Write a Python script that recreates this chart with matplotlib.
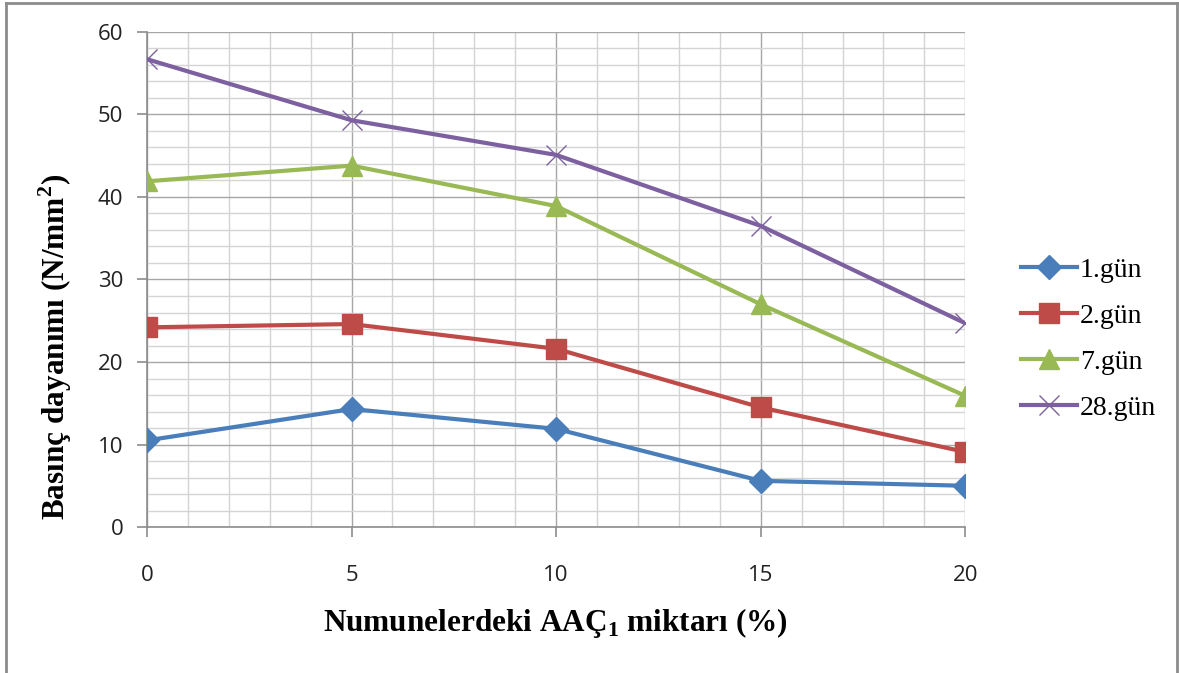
import matplotlib
matplotlib.use("Agg")
import matplotlib.pyplot as plt
from matplotlib.lines import Line2D
from matplotlib.ticker import MultipleLocator

# AAÇ1 content (%) and compressive strength (N/mm²) per curing age
aac_pct = [0, 5, 10, 15, 20]
gun_1 = [10.5, 14.3, 11.9, 5.6, 5.0]
gun_2 = [24.2, 24.6, 21.6, 14.5, 9.1]
gun_7 = [41.9, 43.8, 38.9, 27.0, 15.9]
gun_28 = [56.7, 49.3, 45.1, 36.5, 24.7]
series_labels = ["1.gün", "2.gün", "7.gün", "28.gün"]

COLORS = ["#4A7EBB", "#BE4B48", "#98B954", "#7D60A0"]
MARKERS = [("D", 12, None), ("s", 14, None), ("^", 15, None), ("x", 15, 1.0)]

fig = plt.figure(figsize=(11.79, 6.73), dpi=100)
ax = fig.add_axes([0.1247, 0.2169, 0.694, 0.7356])

for ys, lab, col, (mk, ms, mew) in zip([gun_1, gun_2, gun_7, gun_28],
                                       series_labels, COLORS, MARKERS):
    kw = dict(color=col, linewidth=3, marker=mk, markersize=ms,
              label=lab, solid_joinstyle="round", zorder=3)
    if mew is not None:
        kw["markeredgewidth"] = mew
    ax.plot(aac_pct, ys, **kw)

ax.set_xlim(0, 20)
ax.set_ylim(0, 60)
ax.xaxis.set_major_locator(MultipleLocator(5))
ax.xaxis.set_minor_locator(MultipleLocator(1))
ax.yaxis.set_major_locator(MultipleLocator(10))
ax.yaxis.set_minor_locator(MultipleLocator(2))
ax.grid(which="minor", color="#d4d4d4", linewidth=1.0, zorder=0)
ax.grid(which="major", color="#a6a6a6", linewidth=1.0, zorder=0)
ax.set_axisbelow(True)

for s in ("top", "right"):
    ax.spines[s].set_visible(False)
for s in ("left", "bottom"):
    ax.spines[s].set_color("#8c8c8c")
    ax.spines[s].set_linewidth(1.2)

ax.tick_params(which="major", length=7, width=1.2, color="#8c8c8c",
               labelsize=16, labelcolor="#222222")
ax.tick_params(axis="x", which="major", pad=20)
ax.tick_params(axis="y", which="major", pad=10)
ax.tick_params(which="minor", length=0)
for t in ax.get_xticklabels() + ax.get_yticklabels():
    t.set_fontfamily("Open Sans")

serif = ["Liberation Serif", "DejaVu Serif"]
ax.set_xlabel(r"Numunelerdeki AAÇ$_\mathregular{1}$ miktarı (%)",
              fontsize=22.5, fontweight="bold", family=serif)
ax.set_ylabel(r"Basınç dayanımı (N/mm$^\mathregular{2}$)",
              fontsize=22.5, fontweight="bold", family=serif)
ax.xaxis.set_label_coords(0.499, -0.160)
ax.yaxis.set_label_coords(-0.089, 0.364)

leg = ax.legend(loc="center left", bbox_to_anchor=(1.038, 0.38),
                frameon=False, prop={"family": serif, "size": 20},
                handlelength=2.0, labelspacing=0.74, handletextpad=0.1)

# outer chart frame
for xs, ys in (([0.005, 0.005], [0.0, 0.996]),
               ([0.005, 0.998], [0.996, 0.996]),
               ([0.998, 0.998], [0.0, 0.996])):
    fig.add_artist(Line2D(xs, ys, transform=fig.transFigure,
                          color="#8c8c8c", linewidth=2))

fig.savefig("out.png", dpi=100)
